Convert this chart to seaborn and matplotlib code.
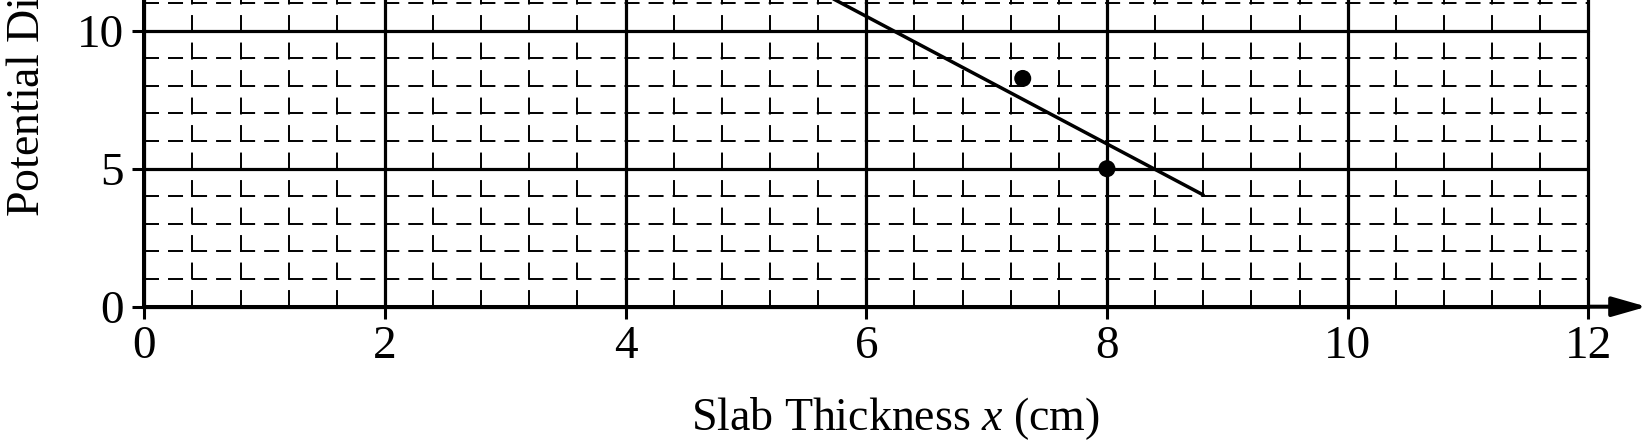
import numpy as np
import pandas as pd
import matplotlib
matplotlib.use("Agg")
import matplotlib.pyplot as plt
import matplotlib.transforms as mtransforms
import seaborn as sns

# ---- data ----
point_x = [7.3, 8.0]
point_y = [8.27, 5.0]
line_x = [4.0, 8.8]
line_y = [15.14, 4.05]
x_major = [0, 2, 4, 6, 8, 10, 12]
x_labels = ["0", "2", "4", "6", "8", "10", "12"]
y_major = [0, 5, 10, 15]
y_labels = ["0", "5", "10", "15"]
x_minor_step = 0.4
y_minor_step = 1.0
x_title = "Slab Thickness $x$ (cm)"
y_title = "Potential Difference $V$ (V)"

sns.set_style("ticks")
plt.rcParams["font.family"] = ["Liberation Serif", "DejaVu Serif"]
plt.rcParams["mathtext.fontset"] = "custom"
plt.rcParams["mathtext.rm"] = "Liberation Serif"
plt.rcParams["mathtext.it"] = "Liberation Serif:italic"
plt.rcParams["lines.scale_dashes"] = False
plt.rcParams["text.color"] = "black"
plt.rcParams["axes.labelcolor"] = "black"

W, H = 1649, 444
fig = plt.figure(figsize=(W / 100, H / 100), dpi=100)
x0_px, x12_px, y0_px, ppu_y = 144.3, 1588.3, 306.7, 27.6
YTOP = 15
ax = fig.add_axes([x0_px / W, (H - y0_px) / H, (x12_px - x0_px) / W, YTOP * ppu_y / H])
ax.set_xlim(0, 12)
ax.set_ylim(0, YTOP)

pts = pd.DataFrame({"x": point_x, "y": point_y})
ln = pd.DataFrame({"x": line_x, "y": line_y})
sns.lineplot(data=ln, x="x", y="y", ax=ax, color="black", lw=2.5, zorder=5)
sns.scatterplot(data=pts, x="x", y="y", ax=ax, color="black", s=150,
                edgecolor="none", zorder=6)

ax.set_xticks(x_major)
ax.set_xticklabels(x_labels)
ax.set_yticks(y_major)
ax.set_yticklabels(y_labels)
ax.set_xticks(np.arange(0, 12 + 1e-9, x_minor_step), minor=True)
ax.set_yticks(np.arange(0, YTOP + 1e-9, y_minor_step), minor=True)

ax.tick_params(axis="both", which="major", direction="out", length=8.6, width=2.2,
               color="black", labelsize=34, labelcolor="black")
ax.tick_params(axis="x", which="major", pad=5)
ax.tick_params(axis="y", which="major", pad=6)
ax.tick_params(axis="both", which="minor", length=0)

ax.set_axisbelow(True)
ax.xaxis.grid(True, which="major", color="black", lw=2.3, ls="-")
ax.yaxis.grid(True, which="major", color="black", lw=2.3, ls="-")
ax.xaxis.grid(True, which="minor", color="black", lw=1.4, ls=(0, (12.2, 7.6)))
ax.yaxis.grid(True, which="minor", color="black", lw=1.4, ls=(0, (10.8, 6.5)))

for s in ["top", "right"]:
    ax.spines[s].set_visible(False)
for s in ["left", "bottom"]:
    ax.spines[s].set_linewidth(2.9)
    ax.spines[s].set_color("black")

# arrow continuing the x axis
tip = mtransforms.offset_copy(ax.transAxes, fig=fig, x=58.4, y=0, units="dots")
ax.annotate("", xy=(1, 0), xycoords=tip, xytext=(1, 0), textcoords="axes fraction",
            arrowprops=dict(arrowstyle="-|>,head_length=1.05,head_width=0.3",
                            mutation_scale=20, lw=2.9, color="black",
                            shrinkA=0, shrinkB=0), annotation_clip=False)

ax.set_xlabel(x_title, fontsize=33, ha="center", va="baseline", color="black")
ax.xaxis.set_label_coords(895.5 / W, (H - 430) / H, transform=fig.transFigure)
ax.set_ylabel(y_title, fontsize=33, ha="left", va="baseline", color="black")
ax.yaxis.set_label_coords(39 / W, (H - 217) / H, transform=fig.transFigure)

fig.canvas.draw()
for axis in (ax.xaxis, ax.yaxis):
    for t in axis.get_major_ticks() + axis.get_minor_ticks():
        t.gridline.set_clip_on(False)

fig.savefig("out.png", dpi=100)
